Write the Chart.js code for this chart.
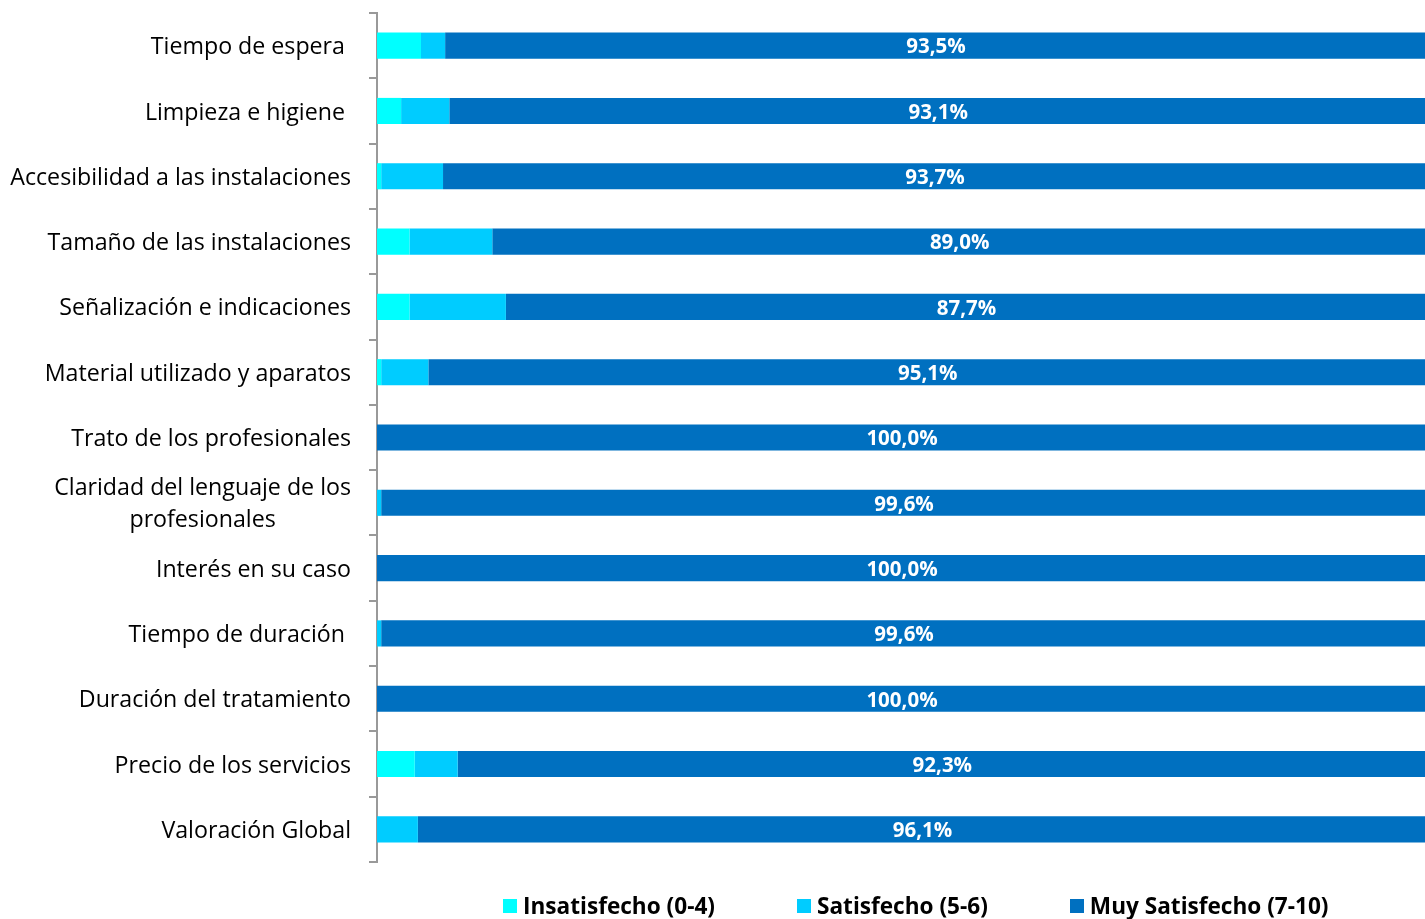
<!DOCTYPE html>
<html>
<head>
<meta charset="utf-8">
<script src="https://cdn.jsdelivr.net/npm/chart.js@4.4.0/dist/chart.umd.min.js"></script>
<style>
    html, body { margin: 0; padding: 0; background: #fff; }
    #wrap { width: 1425px; height: 919px; position: relative; }
    #legend {
        position: absolute; left: 503px; top: 891px;
        display: flex; gap: 82px;
        font: bold 22.6px 'Open Sans'; color: #000; line-height: 30px;
    }
    #legend .item { display: flex; align-items: center; white-space: nowrap; }
    #legend .box { width: 14px; height: 14px; margin-right: 6px; }
</style>
</head>
<body>
<div id="wrap"><canvas id="chart"></canvas><div id="legend"></div></div>
<script>
// categories (trailing spaces kept as in the original labels)
const categories = [
    'Tiempo de espera ',
    'Limpieza e higiene ',
    'Accesibilidad a las instalaciones',
    'Tamaño de las instalaciones',
    'Señalización e indicaciones',
    'Material utilizado y aparatos',
    'Trato de los profesionales',
    ['Claridad del lenguaje de los', 'profesionales'],
    'Interés en su caso',
    'Tiempo de duración ',
    'Duración del tratamiento',
    'Precio de los servicios',
    'Valoración Global',
];
const insatisfecho = [4.2, 2.3, 0.4, 3.1, 3.1, 0.4, 0, 0, 0, 0, 0, 3.6, 0];
const satisfecho = [2.3, 4.6, 5.9, 7.9, 9.2, 4.5, 0, 0.4, 0, 0.4, 0, 4.1, 3.9];
const muySatisfecho = [93.5, 93.1, 93.7, 89.0, 87.7, 95.1, 100, 99.6, 100, 99.6, 100, 92.3, 96.1];
const seriesNames = ['Insatisfecho (0-4)', 'Satisfecho (5-6)', 'Muy Satisfecho (7-10)'];
const seriesColors = ['#00FFFF', '#00CCFF', '#0070C0'];

const FONT = "'Open Sans'";

// y category labels, right aligned block, multi-line centred
const categoryLabels = {
    id: 'categoryLabels',
    afterDraw(chart) {
        const y = chart.scales.y;
        const ctx = chart.ctx;
        ctx.save();
        ctx.font = `23.2px ${FONT}`;
        ctx.fillStyle = '#000';
        ctx.textBaseline = 'middle';
        ctx.textAlign = 'center';
        const right = y.right - 26;
        categories.forEach((label, i) => {
            const lines = Array.isArray(label) ? label : [label];
            const cy = y.getPixelForValue(i) + 2;
            const maxW = Math.max(...lines.map(l => ctx.measureText(l).width));
            lines.forEach((line, j) => {
                const ly = cy + (j - (lines.length - 1) / 2) * 32;
                ctx.fillText(line, right - maxW / 2, ly);
            });
        });
        ctx.restore();
    },
};

// value labels on the last series
const valueLabels = {
    id: 'valueLabels',
    afterDatasetsDraw(chart) {
        const ctx = chart.ctx;
        const meta = chart.getDatasetMeta(2);
        ctx.save();
        ctx.font = `bold 20.5px ${FONT}`;
        ctx.fillStyle = '#fff';
        ctx.textAlign = 'center';
        ctx.textBaseline = 'middle';
        meta.data.forEach((bar, i) => {
            const p = bar.getCenterPoint();
            ctx.fillText(muySatisfecho[i].toFixed(1).replace('.', ',') + '%', p.x + 1, p.y + 2);
        });
        ctx.restore();
    },
};

const chart = new Chart(document.getElementById('chart'), {
    type: 'bar',
    data: {
        labels: categories,
        datasets: [insatisfecho, satisfecho, muySatisfecho].map((d, i) => ({
            label: seriesNames[i],
            data: d,
            backgroundColor: seriesColors[i],
            borderWidth: 0,
            barPercentage: 0.4,
            categoryPercentage: 1,
        })),
    },
    options: {
        indexAxis: 'y',
        responsive: true,
        maintainAspectRatio: false,
        animation: false,
        layout: { padding: { top: 13, right: 0, left: 0, bottom: 57 } },
        scales: {
            x: { stacked: true, min: 0, max: 100, display: false },
            y: {
                stacked: true,
                ticks: { display: false },
                grid: { drawOnChartArea: false, drawTicks: true, tickLength: 8, color: '#999', lineWidth: 2 },
                border: { display: true, color: '#999', width: 2 },
                afterFit: (scale) => { scale.width = 377; },
            },
        },
        plugins: {
            tooltip: { enabled: false },
            legend: { display: false },
        },
    },
    plugins: [categoryLabels, valueLabels],
});

// html legend built from the datasets
const legendEl = document.getElementById('legend');
chart.data.datasets.forEach((ds) => {
    const item = document.createElement('div');
    item.className = 'item';
    const box = document.createElement('span');
    box.className = 'box';
    box.style.background = ds.backgroundColor;
    const text = document.createElement('span');
    text.textContent = ds.label;
    item.append(box, text);
    legendEl.appendChild(item);
});
</script>
</body>
</html>
